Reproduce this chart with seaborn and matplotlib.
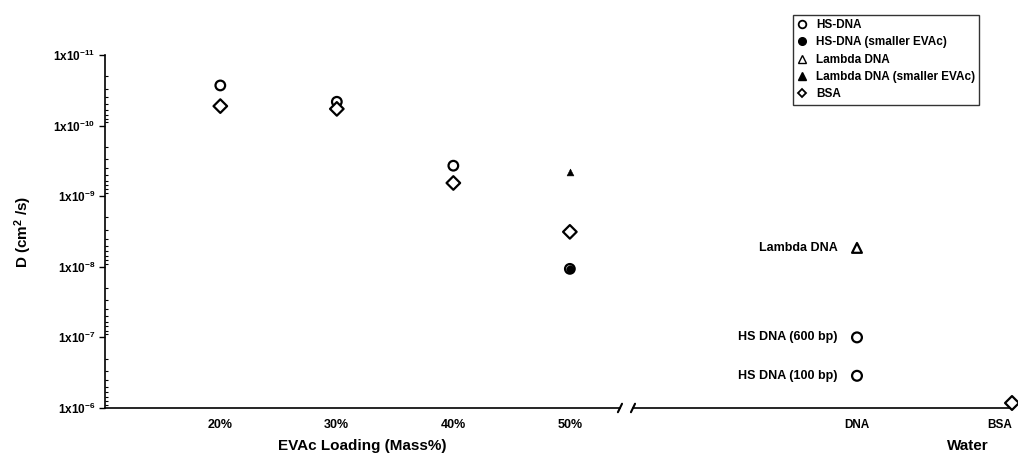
import numpy as np
import pandas as pd
import matplotlib
matplotlib.use("Agg")
import matplotlib.pyplot as plt
import seaborn as sns
from matplotlib.lines import Line2D
from matplotlib.ticker import FixedLocator, LogLocator, NullFormatter

# EVAc loading panel
loading = [20, 30, 40, 50]
loading_labels = ["20%", "30%", "40%", "50%"]
hs_dna = [2.7e-11, 4.6e-11, 3.7e-10, 1.07e-8]
bsa = [5.3e-11, 5.8e-11, 6.5e-10, 3.2e-9]
hs_dna_small_x = [50]
hs_dna_small = [1.07e-8]
lambda_small_x = [50]
lambda_small = [4.5e-10]

# water panel
water_sample = ["DNA", "DNA", "DNA", "BSA"]
water_kind = ["Lambda DNA", "HS DNA (600 bp)", "HS DNA (100 bp)", "BSA"]
water_marker = ["^", "o", "o", "D"]
water_d = [5.4e-9, 1.0e-7, 3.5e-7, 8.5e-7]

yticks = [1e-11, 1e-10, 1e-9, 1e-8, 1e-7, 1e-6]
ytick_labels = ["1x10$^{-11}$", "1x10$^{-10}$", "1x10$^{-9}$",
                "1x10$^{-8}$", "1x10$^{-7}$", "1x10$^{-6}$"]

sns.set_style("white")
plt.rcParams["font.family"] = ["Liberation Sans", "DejaVu Sans"]
plt.rcParams["font.weight"] = "bold"
plt.rcParams["mathtext.default"] = "regular"
plt.rcParams["text.color"] = "black"
plt.rcParams["axes.labelcolor"] = "black"
plt.rcParams["xtick.color"] = "black"
plt.rcParams["ytick.color"] = "black"

fig = plt.figure(figsize=(10.18, 4.66), dpi=100)
ax1 = fig.add_axes([0.1031, 0.1245, 0.5059, 0.7575])
ax2 = fig.add_axes([0.6218, 0.1245, 0.3723, 0.7575])

df_open = pd.DataFrame({"x": loading * 2, "D": hs_dna + bsa,
                        "series": ["HS-DNA"] * 4 + ["BSA"] * 4})
sns.scatterplot(data=df_open, x="x", y="D", style="series",
                markers={"HS-DNA": "o", "BSA": "D"}, s=48,
                facecolor="white", edgecolor="black", linewidth=1.6,
                legend=False, ax=ax1, zorder=3)
sns.scatterplot(x=hs_dna_small_x, y=hs_dna_small, marker="o", s=30,
                color="black", edgecolor="black", ax=ax1, zorder=4)
sns.scatterplot(x=lambda_small_x, y=lambda_small, marker="^", s=24,
                color="black", edgecolor="black", ax=ax1, zorder=4)

ax1.set_yscale("log")
ax1.set_ylim(1e-6, 1e-11)
ax1.set_xlim(10.1, 54.3)
ax1.yaxis.set_major_locator(FixedLocator(yticks))
ax1.set_yticklabels(ytick_labels, fontsize=8.5, fontweight="bold")
ax1.yaxis.set_minor_locator(LogLocator(base=10, subs=np.arange(2, 10)))
ax1.yaxis.set_minor_formatter(NullFormatter())
ax1.tick_params(axis="y", which="major", direction="out", length=4, width=1, left=True, pad=3)
ax1.tick_params(axis="y", which="minor", direction="in", length=2.5, width=0.8, left=True)
ax1.set_xticks(loading)
ax1.set_xticklabels(loading_labels, fontsize=9, fontweight="bold")
ax1.tick_params(axis="x", length=0, pad=8)
ax1.set_ylabel("D (cm$^2$ /s)", fontsize=11, fontweight="bold")
ax1.yaxis.set_label_coords(-0.137, 0.5)
ax1.set_xlabel("EVAc Loading (Mass%)", fontsize=11, fontweight="bold")
ax1.xaxis.set_label_coords(0.5, -0.088)
for side in ["top", "right"]:
    ax1.spines[side].set_visible(False)
for side in ["left", "bottom"]:
    ax1.spines[side].set_color("black")
    ax1.spines[side].set_linewidth(1.2)

df_water = pd.DataFrame({"sample": water_sample, "D": water_d, "kind": water_kind})
sns.scatterplot(data=df_water, x="sample", y="D", style="kind",
                markers=dict(zip(water_kind, water_marker)), s=50,
                facecolor="white", edgecolor="black", linewidth=1.6,
                legend=False, ax=ax2, zorder=3, clip_on=False)
ax2.set_yscale("log")
ax2.set_ylim(1e-6, 1e-11)
ax2.set_xlim(-1.445, 1.0)
ax2.set_yticks([])
ax2.minorticks_off()
ax2.set_ylabel("")
ax2.tick_params(axis="x", length=0, pad=8, labelsize=8.5)
for lab in ax2.get_xticklabels():
    lab.set_fontweight("bold")
ax2.get_xticklabels()[-1].set_ha("right")
ax2.set_xlabel("Water", fontsize=11, fontweight="bold")
ax2.xaxis.set_label_coords(0.884, -0.088)
for side in ["top", "right", "left"]:
    ax2.spines[side].set_visible(False)
ax2.spines["bottom"].set_color("black")
ax2.spines["bottom"].set_linewidth(1.2)

for kind, d in zip(water_kind[:3], water_d[:3]):
    ax2.annotate(kind, xy=(0, d), xytext=(-14, 0), textcoords="offset points",
                 ha="right", va="center", fontsize=9, fontweight="bold")

# axis break marks
for ax, xpos, dx in [(ax1, 1.0, 0.004), (ax2, 0.0, 0.0054)]:
    ax.plot([xpos - dx, xpos + dx], [-0.012, 0.012], transform=ax.transAxes,
            color="black", lw=1.5, clip_on=False)

handles = [
    Line2D([], [], ls="", marker="o", mfc="white", mec="black", ms=5.5, mew=1.3),
    Line2D([], [], ls="", marker="o", mfc="black", mec="black", ms=5.5),
    Line2D([], [], ls="", marker="^", mfc="white", mec="black", ms=5.5, mew=1.0),
    Line2D([], [], ls="", marker="^", mfc="black", mec="black", ms=5.5),
    Line2D([], [], ls="", marker="D", mfc="white", mec="black", ms=4.5, mew=1.3),
]
labels = ["HS-DNA", "HS-DNA (smaller EVAc)", "Lambda DNA",
          "Lambda DNA (smaller EVAc)", "BSA"]
leg = fig.legend(handles, labels, loc="upper left",
                 bbox_to_anchor=(793 / 1018, 1 - 15 / 466), borderaxespad=0,
                 fontsize=8.5, frameon=True, fancybox=False,
                 handlelength=0.8, handletextpad=0.8, labelspacing=0.45,
                 borderpad=0.35)
leg.get_frame().set_edgecolor("black")
leg.get_frame().set_linewidth(1.0)
for t in leg.get_texts():
    t.set_fontweight("bold")
    t.set_color("black")

fig.savefig("out.png", dpi=100)
